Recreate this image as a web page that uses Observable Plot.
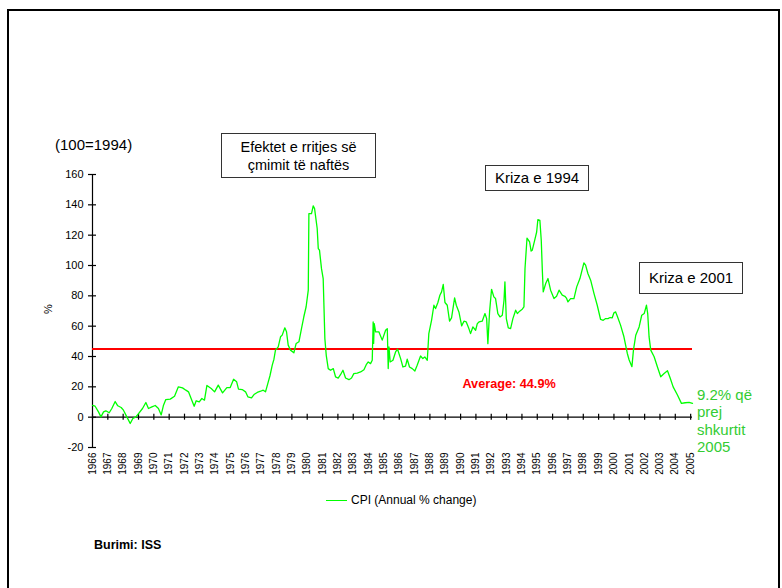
<!DOCTYPE html>
<html>
<head>
<meta charset="utf-8">
<script src="https://cdn.jsdelivr.net/npm/d3@7"></script>
<script src="https://cdn.jsdelivr.net/npm/@observablehq/plot@0.6"></script>
<style>
  html, body { margin: 0; padding: 0; background: #fff; overflow: hidden; }
  body { width: 782px; height: 588px; position: relative; font-family: "Liberation Sans", Arial, sans-serif; }
  #frame { position: absolute; left: 7px; top: 9px; width: 769px; height: 620px; border: 2px solid #000; }
  #chart { position: absolute; left: 0; top: 0; }
  .abs { position: absolute; white-space: nowrap; }
  .box { position: absolute; border: 1.3px solid #333; background: #fff; display: flex; flex-direction: column;
         align-items: center; justify-content: center; color: #000; line-height: 18px; box-sizing: border-box; }
</style>
</head>
<body>
<div id="frame"></div>
<div id="chart"></div>
<script>
// ---- data ----
const cpiTime = [
  1966.00,1966.17,1966.39,1966.55,1966.72,1966.87,1967.09,1967.26,1967.48,1967.65,1967.87,
  1968.02,1968.24,1968.46,1968.63,1968.83,1969.00,1969.26,1969.48,1969.65,1969.87,
  1970.09,1970.30,1970.48,1970.63,1970.78,1971.07,1971.35,1971.60,1971.87,
  1972.09,1972.26,1972.43,1972.63,1972.76,1972.96,1973.13,1973.30,1973.46,1973.74,1973.96,
  1974.20,1974.48,1974.76,1974.98,1975.20,1975.40,1975.52,1975.76,1975.98,
  1976.13,1976.37,1976.53,1976.74,1976.96,1977.13,1977.28,1977.46,1977.57,1977.72,1977.83,1977.93,
  1978.11,1978.26,1978.37,1978.54,1978.65,1978.76,1978.91,1979.13,1979.28,1979.46,1979.63,1979.78,1979.93,
  1980.07,1980.11,1980.28,1980.39,1980.48,1980.65,1980.72,1980.80,1980.93,
  1981.04,1981.15,1981.24,1981.37,1981.52,1981.70,1981.85,
  1982.02,1982.17,1982.33,1982.50,1982.72,1982.89,1983.04,1983.26,1983.48,1983.70,1983.85,1983.98,
  1984.13,1984.24,1984.30,1984.33,1984.37,1984.46,1984.67,1984.89,
  1985.11,1985.22,1985.28,1985.33,1985.41,1985.59,1985.76,1985.89,
  1986.09,1986.24,1986.41,1986.52,1986.67,1986.85,1987.02,1987.17,1987.39,1987.54,1987.67,1987.83,1987.93,
  1988.11,1988.26,1988.37,1988.52,1988.65,1988.76,1988.87,1988.98,
  1989.13,1989.28,1989.41,1989.61,1989.72,1989.89,1990.07,1990.22,1990.37,1990.54,1990.65,1990.80,1990.98,
  1991.09,1991.20,1991.41,1991.59,1991.70,1991.78,1991.89,
  1992.02,1992.17,1992.28,1992.43,1992.57,1992.72,1992.83,1992.89,1992.98,
  1993.11,1993.26,1993.41,1993.59,1993.70,1993.85,1994.02,1994.13,1994.20,1994.33,1994.50,1994.60,1994.67,1994.83,1994.96,
  1995.04,1995.17,1995.26,1995.33,1995.39,1995.55,1995.70,1995.87,
  1996.09,1996.26,1996.42,1996.63,1996.80,1996.90,1997.00,1997.17,1997.39,1997.57,1997.78,
  1998.04,1998.15,1998.30,1998.48,1998.70,1998.91,1999.13,1999.30,1999.46,1999.61,1999.75,1999.89,
  2000.00,2000.11,2000.22,2000.43,2000.65,2000.87,2000.99,2001.17,2001.27,2001.42,2001.64,2001.81,2001.97,
  2002.12,2002.20,2002.29,2002.40,2002.62,2002.83,2003.05,2003.27,2003.49,2003.66,2003.86,
  2004.14,2004.40,2004.64,2004.90,2005.12
];
const cpiValue = [
  7.7,7.2,3.5,0.2,3.5,4.2,2.9,5.7,10.3,7.5,6.4,
  4.6,0.2,-4.2,-0.9,0.2,2.4,5.7,9.7,5.7,6.8,
  7.7,5.7,1.5,7.9,11.6,11.9,13.8,20.0,19.3,
  17.8,16.7,12.3,7.2,10.8,10.1,12.3,11.2,20.9,18.9,16.7,
  21.1,16.0,19.5,19.5,25.0,23.3,18.5,18.2,16.7,
  13.4,12.7,14.9,16.3,17.1,17.8,16.7,23.3,27.3,34.3,38.2,44.2,
  46.4,53.0,54.1,58.9,56.3,47.5,44.2,42.4,48.6,49.7,58.5,66.2,72.8,
  83.8,134.2,134.2,139.3,137.5,124.4,111.2,110.1,97.9,
  91.4,51.8,40.8,32.0,30.9,32.0,26.5,
  25.8,28.0,30.9,25.8,24.7,25.8,28.7,29.1,29.8,31.3,34.6,36.4,
  35.3,37.5,62.8,48.6,61.7,56.3,56.3,50.8,
  57.3,58.4,32.1,46.3,36.4,37.5,43.0,44.8,
  38.6,33.1,33.6,38.2,33.1,32.0,30.4,34.2,40.3,38.6,39.7,37.5,55.1,
  64.0,73.8,71.6,75.6,80.4,82.6,87.5,75.6,
  73.8,63.3,65.5,78.7,73.8,69.4,60.2,63.3,62.8,58.4,55.1,59.5,57.3,
  61.7,62.8,63.3,68.3,65.0,48.5,69.4,
  84.3,79.3,78.2,68.3,66.1,67.2,77.1,89.2,65.0,
  58.9,58.4,65.0,70.5,68.3,69.9,71.2,72.7,98.0,118.0,115.5,109.5,110.0,116.6,122.1,
  130.3,129.8,116.6,96.9,82.6,88.1,91.4,83.7,
  78.2,79.7,83.7,80.4,79.7,78.5,76.0,78.2,78.2,85.9,91.4,
  101.7,100.2,94.7,90.3,81.5,73.8,64.4,63.9,65.0,65.0,65.7,65.5,
  68.8,69.4,66.6,60.7,53.0,42.0,37.7,33.3,44.2,54.0,59.5,67.2,68.3,
  73.8,68.3,52.9,44.2,39.8,33.2,26.6,28.8,30.6,26.0,20.0,
  14.6,9.1,9.5,9.7,9.1
];
const yearLabels = d3.range(1966, 2006);
const yTicks = [-20, 0, 20, 40, 60, 80, 100, 120, 140, 160];
const average = 44.9;
const averageLabel = "Average: 44.9%";
const seriesName = "CPI (Annual % change)";
const baseNote = "(100=1994)";
const yLabel = "%";
const source = "Burimi: ISS";
const noteLines = ["9.2% që", "prej", "shkurtit", "2005"];
const boxOil = ["Efektet e rritjes së", "çmimit të naftës"];
const box1994 = "Kriza e 1994";
const box2001 = "Kriza e 2001";

// ---- build ----
const toDate = (y) => {
  const yr = Math.floor(y);
  const start = Date.UTC(yr, 0, 1), end = Date.UTC(yr + 1, 0, 1);
  return new Date(start + (y - yr) * (end - start));
};
const series = cpiTime.map((t, i) => ({date: toDate(t), value: cpiValue[i]}));
const yearDates = yearLabels.map(y => new Date(Date.UTC(y, 0, 1)));
const x0 = toDate(cpiTime[0]);
const x1 = toDate(cpiTime[cpiTime.length - 1]);

const chart = Plot.plot({
  width: 782,
  height: 588,
  marginLeft: 92,
  marginRight: 90,
  marginTop: 174,
  marginBottom: 141,
  style: {fontFamily: "'Liberation Sans', Arial, sans-serif", fontSize: "11px", background: "transparent", color: "#000", overflow: "visible"},
  x: {type: "utc", domain: [x0, x1]},
  y: {domain: [-20, 160]},
  marks: [
    Plot.ruleX([x0], {stroke: "#000", strokeWidth: 1.2}),
    Plot.ruleY(yTicks, {y: d => d, x1: x0, x2: x0, insetLeft: -4, insetRight: -4, stroke: "#000", strokeWidth: 1.2}),
    Plot.axisY({ticks: yTicks, tickFormat: d => String(d), tickSize: 0, tickPadding: 9, fontSize: 11, label: null}),
    Plot.ruleY([0], {stroke: "#000", strokeWidth: 1.2}),
    Plot.ruleX(yearDates, {x: d => d, y1: 0, y2: 0, insetTop: -3, insetBottom: -3, stroke: "#000", strokeWidth: 1.2}),
    Plot.axisX({ticks: yearDates, tickFormat: "%Y", tickRotate: -90, tickSize: 0, tickPadding: 5, fontSize: 10, label: null}),
    Plot.ruleY([average], {stroke: "#ff0000", strokeWidth: 2}),
    Plot.line(series, {x: "date", y: "value", stroke: "#00ff00", strokeWidth: 1.3}),
    Plot.text([averageLabel], {x: toDate(1993.16), y: 22, text: d => d, fill: "#ff0000", fontWeight: "bold", fontSize: 12.7})
  ]
});
document.getElementById("chart").appendChild(chart);

// ---- html annotations ----
function add(html, css, cls) {
  const el = document.createElement("div");
  el.className = cls || "abs";
  el.innerHTML = html;
  Object.assign(el.style, css);
  document.body.appendChild(el);
  return el;
}
add(baseNote, {left: "55px", top: "136px", fontSize: "15px", color: "#000"});
add(yLabel, {left: "43px", top: "303px", fontSize: "11px", transform: "rotate(-90deg)", transformOrigin: "center"});
add(boxOil.map(s => `<span>${s}</span>`).join(""), {left: "221px", top: "133px", width: "155px", height: "45px", fontSize: "14.5px"}, "box");
add(`<span>${box1994}</span>`, {left: "485px", top: "165px", width: "104px", height: "26px", fontSize: "15px"}, "box");
add(`<span>${box2001}</span>`, {left: "639px", top: "262px", width: "104px", height: "32px", fontSize: "15px"}, "box");
add(noteLines.join("<br>"), {left: "697px", top: "386px", fontSize: "15px", lineHeight: "17.3px", color: "#33cc33"});
add("", {left: "326px", top: "500px", width: "21px", height: "0", borderTop: "1.6px solid #00ff00"});
add(seriesName, {left: "351px", top: "493px", fontSize: "12px", color: "#000"});
add(source, {left: "94px", top: "538px", fontSize: "12.5px", fontWeight: "bold", color: "#000"});
</script>
</body>
</html>
